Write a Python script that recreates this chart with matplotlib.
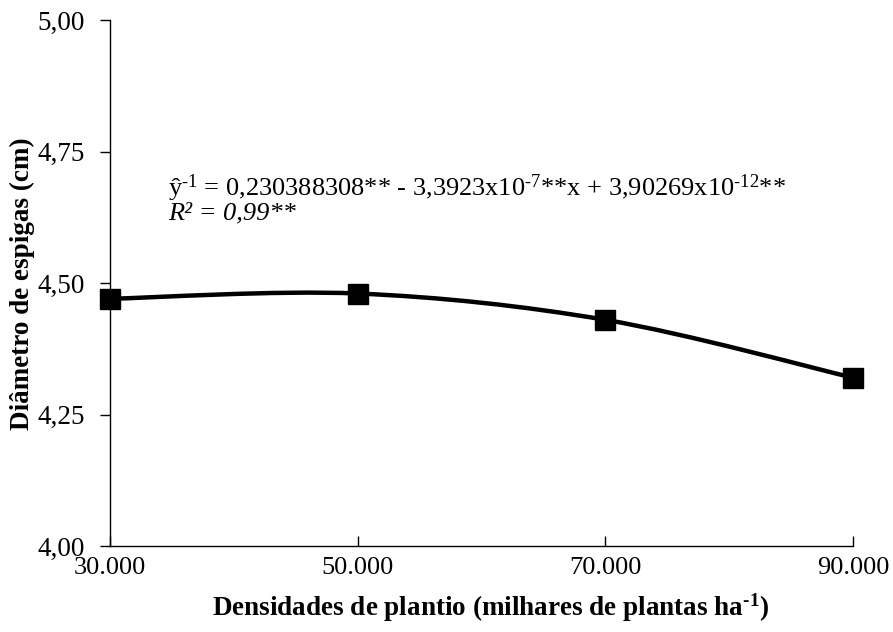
import matplotlib
matplotlib.use("Agg")
import matplotlib.pyplot as plt
from matplotlib.path import Path
from matplotlib.patches import PathPatch

plt.rcParams['font.family'] = ['Liberation Serif', 'DejaVu Serif']
plt.rcParams['mathtext.fontset'] = 'custom'
plt.rcParams['mathtext.rm'] = 'Liberation Serif'
plt.rcParams['mathtext.it'] = 'Liberation Serif:italic'
plt.rcParams['mathtext.bf'] = 'Liberation Serif:bold'

# data
densidades = [30000, 50000, 70000, 90000]
diametro = [4.47, 4.48, 4.43, 4.32]
x_ticks = [30000, 50000, 70000, 90000]
x_labels = ['30.000', '50.000', '70.000', '90.000']
y_ticks = [4.00, 4.25, 4.50, 4.75, 5.00]
y_labels = ['4,00', '4,25', '4,50', '4,75', '5,00']

# U+2010 hyphen so the superscript minus stays short like the original
eq_text = ('ŷ$\\mathregular{^{\u20101}}$ = 0,230388308** - 3,3923x10$\\mathregular{^{\u20107}}$**x'
           ' + 3,90269x10$\\mathregular{^{\u201012}}$**')
r2_text = 'R² = 0,99**'
x_title = 'Densidades de plantio (milhares de plantas ha$\\mathbf{^{\u20101}}$)'
y_title = 'Diâmetro de espigas (cm)'

fig = plt.figure(figsize=(8.93, 6.32), dpi=100)
ax = fig.add_axes([110 / 893, 86 / 632, 743 / 893, 526 / 632])

# smoothed line like excel (bezier through the points)
pts = list(zip(densidades, diametro))
verts = [pts[0]]
codes = [Path.MOVETO]
n = len(pts)
for i in range(n - 1):
    p0 = pts[i - 1] if i > 0 else pts[i]
    p1 = pts[i]
    p2 = pts[i + 1]
    p3 = pts[i + 2] if i + 2 < n else pts[i + 1]
    c1 = (p1[0] + (p2[0] - p0[0]) / 6, p1[1] + (p2[1] - p0[1]) / 6)
    c2 = (p2[0] - (p3[0] - p1[0]) / 6, p2[1] - (p3[1] - p1[1]) / 6)
    verts += [c1, c2, p2]
    codes += [Path.CURVE4] * 3
ax.add_patch(PathPatch(Path(verts, codes), fill=False, lw=3.2, color='black',
                       capstyle='round', zorder=2))

ax.plot(densidades, diametro, linestyle='none', marker='s', markersize=15,
        color='black', clip_on=False, zorder=3)

ax.set_xlim(30000, 90000)
ax.set_ylim(4.0, 5.0)
ax.set_xticks(x_ticks)
ax.set_xticklabels(x_labels)
ax.set_yticks(y_ticks)
ax.set_yticklabels(y_labels)
ax.tick_params(axis='x', direction='in', length=7, width=1, labelsize=19, pad=8)
ax.tick_params(axis='y', direction='out', length=7, width=1, labelsize=19.5, pad=11)

for s in ['top', 'right']:
    ax.spines[s].set_visible(False)
for s in ['left', 'bottom']:
    ax.spines[s].set_linewidth(1)

fig.text(491 / 893, 1 - 608 / 632, x_title, fontsize=19.5, fontweight='bold',
         ha='center', va='center')
fig.text(22 / 893, 1 - 284 / 632, y_title, fontsize=19.5, fontweight='bold',
         rotation=90, ha='center', va='center')

ax.text(0.078, 0.681, eq_text, transform=ax.transAxes, fontsize=19,
        ha='left', va='center')
ax.text(0.078, 0.633, r2_text, transform=ax.transAxes, fontsize=19,
        style='italic', ha='left', va='center')

fig.savefig('out.png', dpi=100)
